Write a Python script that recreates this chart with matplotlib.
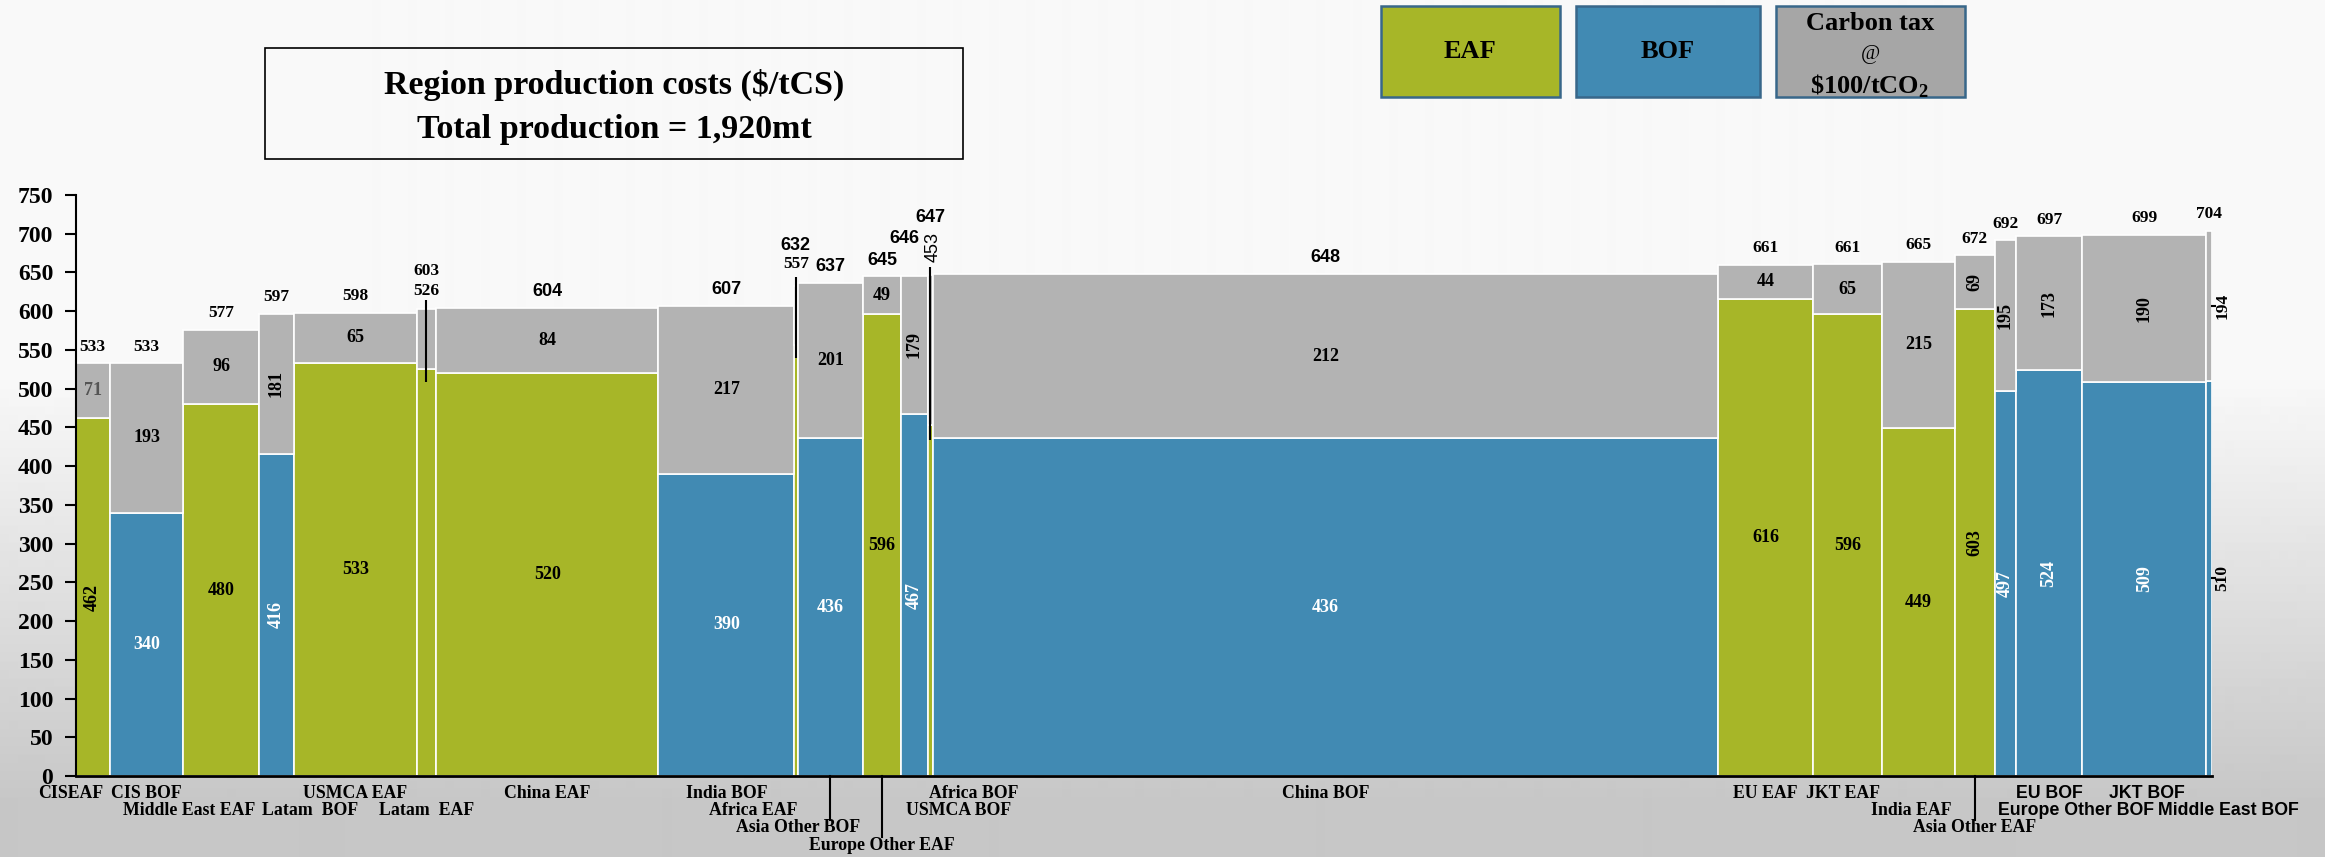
import numpy as np
import matplotlib
matplotlib.use("Agg")
import matplotlib.pyplot as plt
from matplotlib.patches import Rectangle

SERIF = "Liberation Serif"
SANS = "Liberation Sans"

plt.rcParams["font.family"] = SERIF
plt.rcParams["mathtext.fontset"] = "custom"
plt.rcParams["mathtext.rm"] = "Liberation Serif:bold"
plt.rcParams["mathtext.bf"] = "Liberation Serif:bold"

# regional production (mt) and cost stack ($/tCS), cheapest first
regions = ["CIS EAF", "CIS BOF", "Middle East EAF", "Latam BOF", "USMCA EAF",
           "Latam EAF", "China EAF", "India BOF", "Africa EAF", "Asia Other BOF",
           "Europe Other EAF", "USMCA BOF", "Africa BOF", "China BOF", "EU EAF",
           "JKT EAF", "India EAF", "Asia Other EAF", "Europe Other BOF", "EU BOF",
           "JKT BOF", "Middle East BOF"]
xlabels = ["CISEAF", "CIS BOF", "Middle East EAF", "Latam  BOF", "USMCA EAF",
           "Latam  EAF", "China EAF", "India BOF", "Africa EAF", "Asia Other BOF",
           "Europe Other EAF", "USMCA BOF", "Africa BOF", "China BOF", "EU EAF",
           "JKT EAF", "India EAF", "Asia Other EAF", "Europe Other BOF", "EU BOF",
           "JKT BOF", "Middle East BOF"]
# colour group each bar is filled with
route = ["EAF", "BOF", "EAF", "BOF", "EAF", "EAF", "EAF", "BOF", "EAF", "BOF",
         "EAF", "BOF", "EAF", "BOF", "EAF", "EAF", "EAF", "EAF", "BOF", "BOF",
         "BOF", "BOF"]
production = [31, 66, 68, 31, 111, 17, 200, 122, 3, 59, 34, 24, 5, 705, 86, 62,
              65, 36, 19, 60, 111, 5]
base_cost = [462, 340, 480, 416, 533, 526, 520, 390, 557, 436, 596, 467, 453,
             436, 616, 596, 449, 603, 497, 524, 509, 510]
carbon_tax = [71, 193, 96, 181, 65, 77, 84, 217, 75, 201, 49, 179, 194, 212, 44,
              65, 215, 69, 195, 173, 190, 194]
total_cost = [533, 533, 577, 597, 598, 603, 604, 607, 632, 637, 645, 646, 647,
              648, 661, 661, 665, 672, 692, 697, 699, 704]

EAF_COL = "#a7b628"
BOF_COL = "#418ab3"
TAX_COL = "#b3b3b3"
LEGEND_EDGE = "#38678a"

W, H = 2325, 857
fig = plt.figure(figsize=(W / 100, H / 100), dpi=100)

# light-to-grey vertical wash behind everything
bg = fig.add_axes([0, 0, 1, 1], zorder=-5)
rows = np.arange(H)
shade = np.interp(rows, [0, 380, 800, H], [0.973, 0.973, 0.78, 0.78])
bg.imshow(shade[:, None], aspect="auto", cmap="gray", vmin=0, vmax=1,
          extent=[0, 1, 0, 1], interpolation="bilinear")
bg.axis("off")

ax = fig.add_axes([75.5 / W, 81 / H, 2136 / W, 581 / H])
ax.set_facecolor("none")

n = len(regions)
widths = np.array(production, dtype=float)
left = np.concatenate([[0], np.cumsum(widths)[:-1]])
centers = left + widths / 2
fill = [EAF_COL if r == "EAF" else BOF_COL for r in route]

ax.bar(left, base_cost, width=widths, align="edge", color=fill,
       edgecolor="white", linewidth=1.2)
ax.bar(left, carbon_tax, bottom=base_cost, width=widths, align="edge",
       color=TAX_COL, edgecolor="white", linewidth=1.2)

ax.set_xlim(0, widths.sum())
ax.set_ylim(0, 750)
ax.set_xticks([])
ax.set_yticks(range(0, 751, 50))
ax.tick_params(axis="y", length=8, width=1.5, direction="out", pad=8)
for lab in ax.get_yticklabels():
    lab.set_fontfamily(SERIF)
    lab.set_fontweight("bold")
    lab.set_fontsize(17)
for side in ["top", "right"]:
    ax.spines[side].set_visible(False)
ax.spines["left"].set_linewidth(1.5)
ax.spines["bottom"].set_linewidth(2)

# values inside the segments
rot_base = {0, 3, 11, 17, 18, 19, 20}
rot_tax = {3, 11, 17, 18, 19, 20}
no_inner = {5, 8, 12, 21}
for i in range(n):
    if i in no_inner:
        continue
    ax.text(centers[i], base_cost[i] / 2, str(base_cost[i]),
            rotation=90 if i in rot_base else 0, ha="center", va="center",
            color="white" if route[i] == "BOF" else "black",
            fontsize=13, fontweight="bold")
    ax.text(centers[i], base_cost[i] + carbon_tax[i] / 2, str(carbon_tax[i]),
            rotation=90 if i in rot_tax else 0, ha="center", va="center",
            color="#555555" if i == 0 else "black",
            fontsize=13, fontweight="bold")

# totals above the bars
sans_totals = set(range(6, 14))
special = {5, 8, 11, 12}


def total_text(x, y, s, fam):
    size = 13 if fam == SANS else 12.5
    ax.text(x, y, s, ha="center", va="center", fontsize=size,
            fontweight="bold", family=fam)


for i in range(n):
    if i in special:
        continue
    total_text(centers[i], total_cost[i] + 21, str(total_cost[i]),
               SANS if i in sans_totals else SERIF)

# thin bars: total stacked over the base cost with a leader line
for i, dy_top, dy_base in [(5, 49, 23), (8, 53, 29)]:
    total_text(centers[i], total_cost[i] + dy_top, str(total_cost[i]),
               SANS if i in sans_totals else SERIF)
    total_text(centers[i], total_cost[i] + dy_base, str(base_cost[i]), SERIF)
    ax.plot([centers[i]] * 2, [total_cost[i] + 12, base_cost[i] - 17],
            color="black", lw=1.5, solid_capstyle="butt")

total_text(centers[11] - 8.5, total_cost[11] + 48, str(total_cost[11]), SANS)
total_text(centers[12], total_cost[12] + 74, str(total_cost[12]), SANS)
ax.text(centers[12] + 2, total_cost[12] + 36, str(base_cost[12]), rotation=90,
        ha="center", va="center", fontsize=13, family=SANS)
ax.plot([centers[12]] * 2, [total_cost[12] + 10, base_cost[12] - 19],
        color="black", lw=1.5, solid_capstyle="butt")

# last bar is too narrow, its values sit to the right
i = 21
edge = left[i] + widths[i]
for y, s in [(base_cost[i] / 2, base_cost[i]),
             (base_cost[i] + carbon_tax[i] / 2, carbon_tax[i])]:
    ax.plot([edge, edge + 2.7], [y, y], color="black", lw=1.5, clip_on=False)
    ax.text(edge + 10, y, str(s), rotation=90, ha="center", va="center",
            fontsize=12.5, fontweight="bold")

# staggered category labels under the axis
label_row = [1, 1, 2, 2, 1, 2, 1, 1, 2, 3, 4, 2, 1, 1, 1, 1, 2, 3, 2, 1, 1, 2]
label_dx = [-19.5, 0, -28.5, 30, 0, 0, 0, 0, -38.7, -29.4, 0, 40, 39.3, 0, 0,
            -4.4, -6.8, 0, 63.5, 0, 2, 17.5]
row_y = {1: -0.0293, 2: -0.0602, 3: -0.0895, 4: -0.1188}
sans_labels = {18, 19, 20, 21}
xt = ax.get_xaxis_transform()
for i in range(n):
    ax.text(centers[i] + label_dx[i], row_y[label_row[i]], xlabels[i],
            transform=xt, ha="center", va="center", fontsize=12.8,
            fontweight="bold", family=SANS if i in sans_labels else SERIF,
            clip_on=False)
for i, y_end in [(9, -0.0757), (10, -0.105), (17, -0.0757)]:
    ax.plot([centers[i]] * 2, [0, y_end], transform=xt, color="black",
            lw=1.5, clip_on=False)

# heading box
fig.patches.append(Rectangle((265 / W, 1 - 159 / H), 698 / W, 111 / H,
                             transform=fig.transFigure, facecolor="none",
                             edgecolor="black", linewidth=1.2))
fig.text(614 / W, 1 - 94 / H, "Region production costs ($/tCS)",
         ha="center", va="baseline", fontsize=24.5, fontweight="bold")
fig.text(614 / W, 1 - 138 / H, "Total production = 1,920mt",
         ha="center", va="baseline", fontsize=24.5, fontweight="bold")

# legend tiles
tiles = [(1380.6, 179.1, EAF_COL), (1575.8, 184.5, BOF_COL),
         (1775.6, 189.4, "#a6a6a6")]
for x0, w, col in tiles:
    fig.patches.append(Rectangle((x0 / W, 1 - 97 / H), w / W, 90.5 / H,
                                 transform=fig.transFigure, facecolor=col,
                                 edgecolor=LEGEND_EDGE, linewidth=1.8))
fig.text(1470 / W, 1 - 52 / H, "EAF", ha="center", va="center",
         fontsize=19, fontweight="bold")
fig.text(1668 / W, 1 - 52 / H, "BOF", ha="center", va="center",
         fontsize=19, fontweight="bold")
fig.text(1870 / W, 1 - 23 / H, "Carbon tax", ha="center", va="center",
         fontsize=19, fontweight="bold")
fig.text(1870 / W, 1 - 55 / H, "@", ha="center", va="center", fontsize=15)
fig.text(1870 / W, 1 - 86 / H, r"\$100/tCO$_\mathbf{2}$", ha="center",
         va="center", fontsize=19, fontweight="bold")

fig.savefig("out.png", dpi=100)
